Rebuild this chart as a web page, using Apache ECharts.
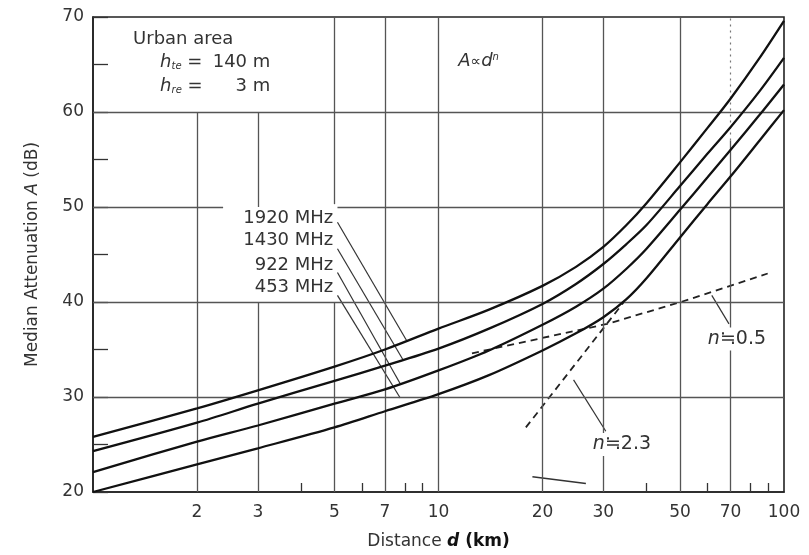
<!DOCTYPE html>
<html><head><meta charset="utf-8">
<script src="https://cdn.jsdelivr.net/npm/echarts@6/dist/echarts.min.js"></script>
<style>html,body{margin:0;padding:0;background:#fff}#c{width:809px;height:555px}</style>
</head><body><div id="c"></div>
<script>
// ---- data ----
const distKm  = [1, 2, 3, 5, 7, 10, 14, 20, 25, 30, 35, 40, 50, 60, 70, 85, 100];
const att1920 = [25.8, 28.8, 30.7, 33.2, 35.0, 37.2, 39.2, 41.7, 43.7, 45.8, 48.1, 50.4, 54.7, 58.3, 61.4, 65.7, 69.6];
const att1430 = [24.3, 27.3, 29.3, 31.7, 33.3, 35.1, 37.2, 39.8, 41.9, 44.0, 46.1, 48.1, 52.2, 55.6, 58.4, 62.2, 65.7];
const att922  = [22.1, 25.3, 27.0, 29.3, 30.8, 32.8, 34.9, 37.6, 39.5, 41.4, 43.5, 45.6, 49.7, 53.1, 56.0, 59.7, 62.9];
const att453  = [20.0, 22.9, 24.6, 26.8, 28.5, 30.3, 32.3, 34.9, 36.7, 38.4, 40.3, 42.5, 46.8, 50.3, 53.2, 57.0, 60.2];
const freqLabels = ['1920 MHz', '1430 MHz', '922 MHz', '453 MHz'];

const slope05Km = [12.5, 30.8, 50.3, 89.7];
const slope05Db = [34.6, 37.7, 40.0, 43.0];
const slope23Km = [17.9, 34.4];
const slope23Db = [26.8, 40.0];

const xLabelValues = [2, 3, 5, 7, 10, 20, 30, 50, 70, 100];
const xMinorTicks  = [4, 6, 8, 9, 40, 60, 80, 90];

// grid line segments: [value, from, to]
const gridV = [[2,20,60],[3,20,40],[3,50,60],[5,20,40],[5,50.3,70],[7,20,70],[10,20,70],[20,20,70],[30,20,70],[50,20,70],[70,20,57]];
const gridVDotted = [[70,57,70]];
const gridH = [[30,1,100],[40,1,100],[50,1,2.38],[50,5.1,100],[60,1,100]];

// leader lines [km1, dB1, km2, dB2]
const freqLeaders = [[5.1,48.4,8.1,35.9],[5.1,45.6,7.9,33.9],[5.1,43.1,7.75,31.4],[5.1,40.7,7.75,29.9]];
const nLeaders = [[61.8,40.7,69.3,37.7],[24.6,31.8,30.5,26.4]];
const strayMark = [[18.7,21.6],[26.7,20.9]];

// annotation anchors [km, dB]
const freqLabelAnchorKm = 4.96;
const freqLabelAnchorDb = [48.8, 46.5, 43.9, 41.5];

const FF = 'DejaVu Sans';
const INK = '#222';
const GRID = '#555';

const chart = echarts.init(document.getElementById('c'), null, {renderer: 'canvas'});

function zip(xs, ys) { return xs.map((x, i) => [x, ys[i]]); }

const markData = [];
gridV.forEach(g => markData.push([{coord:[g[0], g[1]], lineStyle:{color:GRID, width:1.3, type:'solid'}}, {coord:[g[0], g[2]]}]));
gridVDotted.forEach(g => markData.push([{coord:[g[0], g[1]], lineStyle:{color:'#777', width:1.2, type:[2,4]}}, {coord:[g[0], g[2]]}]));
gridH.forEach(g => markData.push([{coord:[g[1], g[0]], lineStyle:{color:GRID, width:1.3, type:'solid'}}, {coord:[g[2], g[0]]}]));

const curveSets = [att1920, att1430, att922, att453];
const series = [{
  type: 'line', data: [[1, 20]], showSymbol: false, lineStyle: {opacity: 0}, z: 1, silent: true,
  markLine: {silent: true, symbol: ['none','none'], label: {show: false}, animation: false, data: markData}
}];
curveSets.forEach((arr, i) => series.push({
  name: freqLabels[i], type: 'line', data: zip(distKm, arr), smooth: 0.3, showSymbol: false,
  lineStyle: {color: '#111', width: 2.3}, z: 5
}));
series.push({type:'line', data: zip(slope05Km, slope05Db), showSymbol:false, lineStyle:{color:'#222', width:1.8, type:[7,5]}, z:4});
series.push({type:'line', data: zip(slope23Km, slope23Db), showSymbol:false, lineStyle:{color:'#222', width:1.8, type:[7,5]}, z:4});
freqLeaders.concat(nLeaders).forEach(l => series.push({
  type:'line', data:[[l[0], l[1]], [l[2], l[3]]], showSymbol:false, lineStyle:{color:'#333', width:1.2}, z:4
}));
series.push({type:'line', data: strayMark, showSymbol:false, lineStyle:{color:'#333', width:1.5}, z:4});

const option = {
  animation: false,
  backgroundColor: '#fff',
  textStyle: {fontFamily: FF},
  grid: {left: 93, right: 25, top: 17, bottom: 62, show: true, borderColor: INK, borderWidth: 1.6, backgroundColor: 'transparent'},
  xAxis: {
    type: 'log', logBase: 10, min: 1, max: 100,
    axisLine: {show: true, lineStyle: {color: INK, width: 1.6}},
    axisTick: {show: true, inside: true, length: 9, customValues: xMinorTicks, lineStyle: {color: '#333', width: 1.3}},
    axisLabel: {show: true, customValues: xLabelValues, margin: 12, fontSize: 17, color: '#333', fontFamily: FF,
      formatter: v => String(+(+v).toPrecision(3))},
    splitLine: {show: false}, minorTick: {show: false},
    name: '{a|Distance }{b|d}{c| (km)}', nameLocation: 'middle', nameGap: 41,
    nameTextStyle: {rich: {
      a: {fontSize: 17, color: '#333', fontFamily: FF},
      b: {fontSize: 17, color: '#111', fontFamily: FF, fontWeight: 'bold', fontStyle: 'italic'},
      c: {fontSize: 17, color: '#111', fontFamily: FF, fontWeight: 'bold'}
    }}
  },
  yAxis: {
    type: 'value', min: 20, max: 70, interval: 5,
    axisLine: {show: true, lineStyle: {color: INK, width: 1.6}},
    axisTick: {show: true, inside: true, length: 15, lineStyle: {color: '#333', width: 1.3}},
    axisLabel: {margin: 9, fontSize: 17, color: '#333', fontFamily: FF,
      formatter: v => (v % 10 === 0 ? String(v) : '')},
    splitLine: {show: false},
    name: '{a|Median Attenuation }{i|A}{a| (dB)}', nameLocation: 'middle', nameGap: 52, nameRotate: 90,
    nameTextStyle: {rich: {
      a: {fontSize: 17, color: '#333', fontFamily: FF},
      i: {fontSize: 17, color: '#333', fontFamily: FF, fontStyle: 'italic'}
    }}
  },
  series: series
};
chart.setOption(option);

const P = (d, a) => chart.convertToPixel({xAxisIndex: 0, yAxisIndex: 0}, [d, a]);
const g = [];
function txt(d, a, text, opts) {
  const p = P(d, a);
  g.push({type: 'text', z: 50, style: Object.assign({
    x: p[0], y: p[1], text: text, fontSize: 18, fontFamily: FF, fill: '#333',
    align: 'left', verticalAlign: 'middle'
  }, opts || {})});
}
const richH = {
  i: {fontStyle: 'italic', fontSize: 18, fontFamily: FF, fill: '#333'},
  s: {fontStyle: 'italic', fontSize: 10, fontFamily: FF, fill: '#333', verticalAlign: 'bottom', padding: [6, 0, 0, 0]},
  e: {fontSize: 18, fontFamily: FF, fill: '#333'}
};
txt(1.306, 67.7, 'Urban area');
txt(1.564, 65.2, '{i|h}{s|te}{e| =}', {rich: richH});
txt(3.26, 65.2, '140 m', {align: 'right'});
txt(1.564, 62.7, '{i|h}{s|re}{e| =}', {rich: richH});
txt(3.26, 62.7, '3 m', {align: 'right'});
txt(11.4, 65.3, '{i|A}{o|∝}{i|d}{p|n}', {rich: {
  i: {fontStyle: 'italic', fontSize: 18, fontFamily: FF, fill: '#333'},
  o: {fontSize: 15, fontFamily: FF, fill: '#333'},
  p: {fontStyle: 'italic', fontSize: 10, fontFamily: FF, fill: '#333', verticalAlign: 'top', padding: [0, 0, 9, 0]}
}});
freqLabels.forEach((t, i) => txt(freqLabelAnchorKm, freqLabelAnchorDb[i], t, {align: 'right', fontSize: 18}));
const richN = {
  i: {fontStyle: 'italic', fontSize: 19, fontFamily: FF, fill: '#333'},
  e: {fontSize: 19, fontFamily: FF, fill: '#333'}
};
txt(59.4, 36.1, '{i|n}{e|≒0.5}', {rich: richN, backgroundColor: '#fff', padding: [2, 2]});
txt(27.6, 25.0, '{i|n}{e|≒2.3}', {rich: richN, backgroundColor: '#fff', padding: [2, 2]});
chart.setOption({graphic: g});
</script></body></html>
